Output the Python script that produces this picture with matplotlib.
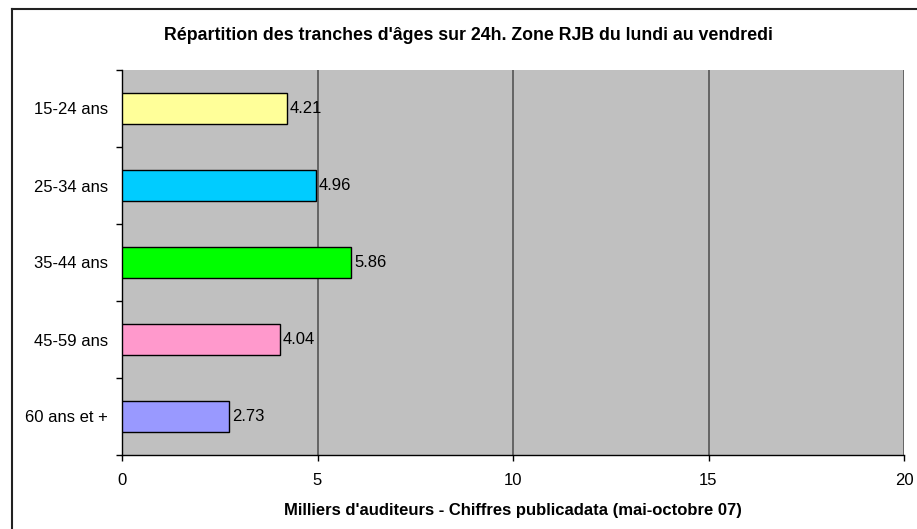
import numpy as np
import matplotlib.pyplot as plt
from matplotlib.lines import Line2D

plt.rcParams['font.family'] = ['Liberation Sans', 'DejaVu Sans']

# data (top to bottom as in the chart)
ages = ['15-24 ans', '25-34 ans', '35-44 ans', '45-59 ans', '60 ans et +']
auditeurs = [4.21, 4.96, 5.86, 4.04, 2.73]
couleurs = ['#FFFF99', '#00CCFF', '#00FF00', '#FF99CC', '#9999FF']
xticks = [0, 5, 10, 15, 20]

fig = plt.figure(figsize=(9.17, 5.29), dpi=100)
W, H = 917, 529
ax = fig.add_axes([122 / W, 1 - 455 / H, (904 - 122) / W, (455 - 70) / H])
ax.set_facecolor('#C0C0C0')

fs = 12
y = np.arange(len(ages))[::-1]
ax.barh(y, auditeurs, height=0.4, color=couleurs, edgecolor='black', linewidth=1, zorder=3)
for yi, v in zip(y, auditeurs):
    ax.text(v + 0.08, yi, '%.2f' % v, va='center', ha='left', fontsize=fs, zorder=4)

ax.set_xlim(0, 20)
ax.set_ylim(-0.5, len(ages) - 0.5)
ax.set_xticks(xticks)
ax.set_xticklabels([str(t) for t in xticks], fontsize=fs)
ax.tick_params(axis='x', length=4, width=1, direction='out', pad=9)

# category labels at centers, ticks at boundaries
ax.set_yticks(y)
ax.set_yticklabels(ages, fontsize=fs)
ax.tick_params(axis='y', which='major', length=0, pad=10)
ax.set_yticks(np.arange(-0.5, len(ages)), minor=True)
ax.tick_params(axis='y', which='minor', length=4, width=1, direction='out')

for xv in xticks[1:]:
    ax.axvline(xv, color='#555555', linewidth=1.2, zorder=1)

for s in ['top', 'right']:
    ax.spines[s].set_visible(False)
ax.spines['left'].set_linewidth(1)
ax.spines['bottom'].set_linewidth(1)

fig.text(513 / W, 1 - 511 / H,
         "Milliers d'auditeurs - Chiffres publicadata (mai-octobre 07)",
         ha='center', va='center', fontsize=fs, fontweight='bold')
fig.text(468 / W, 1 - 36 / H,
         "Répartition des tranches d'âges sur 24h. Zone RJB du lundi au vendredi",
         ha='center', va='center', fontsize=12.8, fontweight='bold')

# outer frame (left and top edges visible)
fig.add_artist(Line2D([12 / W, 12 / W], [0, 1 - 9 / H], color='#222222', lw=1.5))
fig.add_artist(Line2D([12 / W, 1], [1 - 9 / H, 1 - 9 / H], color='#222222', lw=1.5))

fig.savefig('out.png', dpi=100)
